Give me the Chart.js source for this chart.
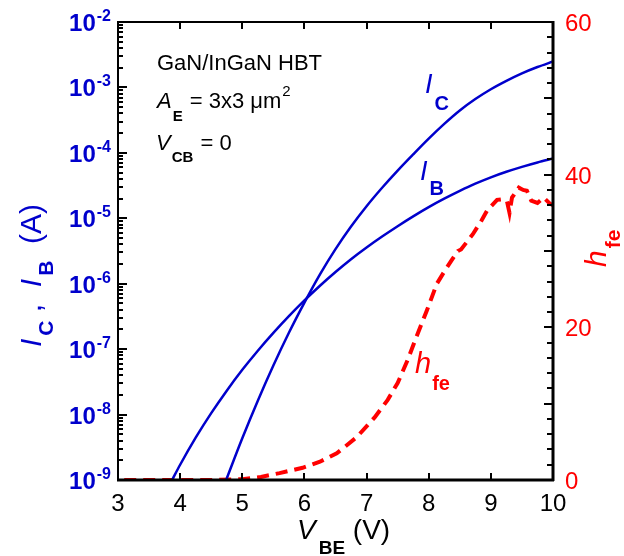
<!DOCTYPE html>
<html>
<head>
<meta charset="utf-8">
<script src="https://cdn.jsdelivr.net/npm/chart.js@4/dist/chart.umd.min.js"></script>
<style>
html,body{margin:0;padding:0;background:#fff;}
#wrap{width:624px;height:556px;}
</style>
</head>
<body>
<div id="wrap"><canvas id="c" width="624" height="556"></canvas></div>
<script>
// ---- data ----
const vbeIC = [4.74, 5.0, 5.25, 5.5, 5.75, 6.0, 6.25, 6.5, 6.75, 7.0, 7.25, 7.5, 7.75, 8.0, 8.25, 8.5, 8.75, 9.0, 9.25, 9.5, 9.75, 10.0];
const icA   = [1.0e-9, 4.34e-9, 1.63e-8, 5.62e-8, 1.78e-7, 5.15e-7, 1.39e-6, 3.38e-6, 7.49e-6, 1.53e-5, 2.93e-5, 5.36e-5, 9.48e-5, 1.65e-4, 2.77e-4, 4.44e-4, 6.64e-4, 9.38e-4, 1.26e-3, 1.64e-3, 2.05e-3, 2.49e-3];

const vbeIB = [3.87, 4.0, 4.25, 4.5, 4.75, 5.0, 5.25, 5.5, 5.75, 6.0, 6.25, 6.5, 6.75, 7.0, 7.25, 7.5, 7.75, 8.0, 8.25, 8.5, 8.75, 9.0, 9.25, 9.5, 9.75, 10.0];
const ibA   = [1.0e-9, 1.71e-9, 4.43e-9, 1.05e-8, 2.32e-8, 4.83e-8, 9.46e-8, 1.77e-7, 3.19e-7, 5.55e-7, 9.31e-7, 1.51e-6, 2.37e-6, 3.58e-6, 5.26e-6, 7.57e-6, 1.07e-5, 1.48e-5, 1.99e-5, 2.62e-5, 3.38e-5, 4.23e-5, 5.14e-5, 6.11e-5, 7.14e-5, 8.20e-5];

const vbeH = [3.1, 3.5, 4.0, 4.5, 5.0, 5.3, 5.6, 5.97, 6.25, 6.52, 6.84, 7.13, 7.34, 7.5, 7.66, 7.8, 7.97, 8.13, 8.25, 8.37, 8.47, 8.52, 8.71, 8.85, 8.94, 9.1, 9.2, 9.26, 9.3, 9.34, 9.45, 9.52, 9.58, 9.65, 9.75, 9.85, 9.95, 10.0];
const hfe  = [0, 0, 0, 0, 0.1, 0.4, 0.9, 1.6, 2.4, 3.5, 5.6, 8.2, 10.5, 12.7, 15.7, 18.7, 22.2, 25.7, 27.3, 28.8, 30.0, 30.2, 32.2, 34.0, 35.3, 36.7, 36.8, 36.5, 35.0, 37.0, 38.3, 38.0, 37.9, 36.6, 36.3, 37.0, 36.2, 36.0];

const xTickVals  = [3, 4, 5, 6, 7, 8, 9, 10];
const yDecades   = [-9, -8, -7, -6, -5, -4, -3, -2];
const y2TickVals = [0, 20, 40, 60];

const BLUE = '#0000CC';
const RED = '#FF0000';
const FF = '"Liberation Sans", Arial, Helvetica, sans-serif';

function pts(xs, ys){ return xs.map((x,i)=>({x:x, y:ys[i]})); }

function drawParts(ctx, x, y, parts){
  let cx = x;
  for (const p of parts){
    ctx.font = p.f;
    ctx.fillStyle = p.c || ctx.fillStyle;
    cx += (p.dx || 0);
    ctx.fillText(p.t, cx, y + (p.dy || 0));
    cx += ctx.measureText(p.t).width;
  }
  return cx;
}
function partsWidth(ctx, parts){
  let w = 0;
  for (const p of parts){ ctx.font = p.f; w += ctx.measureText(p.t).width + (p.dx||0); }
  return w;
}

const decor = {
  id: 'decor',
  afterDraw(chart){
    const ctx = chart.ctx;
    const a = chart.chartArea;
    const sx = chart.scales.x, sy = chart.scales.y, sy2 = chart.scales.y2;
    ctx.save();
    ctx.strokeStyle = '#000';
    ctx.textBaseline = 'alphabetic';
    ctx.textAlign = 'left';

    ctx.lineWidth = 2;
    ctx.beginPath();
    for (const v of xTickVals){
      const px = Math.round(sx.getPixelForValue(v));
      ctx.moveTo(px, a.bottom); ctx.lineTo(px, a.bottom - 7);
      ctx.moveTo(px, a.top); ctx.lineTo(px, a.top + 7);
    }
    for (let d = -9; d <= -2; d++){
      const py = Math.round(sy.getPixelForValue(Math.pow(10, d)));
      ctx.moveTo(a.left, py); ctx.lineTo(a.left + 9, py);
      if (d < -2){
        for (let m = 2; m <= 9; m++){
          const pm = Math.round(sy.getPixelForValue(m * Math.pow(10, d)));
          ctx.moveTo(a.left, pm); ctx.lineTo(a.left + 5, pm);
        }
      }
    }
    for (let v = 0; v <= 60; v += 2){
      const py = Math.round(sy2.getPixelForValue(v));
      const len = (v % 10 === 0) ? 9 : 6;
      ctx.moveTo(a.right, py); ctx.lineTo(a.right - len, py);
    }
    ctx.stroke();

    ctx.lineWidth = 2;
    ctx.strokeRect(a.left, a.top, a.right - a.left, a.bottom - a.top);
    ctx.lineWidth = 3;
    ctx.beginPath();
    ctx.moveTo(a.left - 1, a.bottom); ctx.lineTo(a.right + 1, a.bottom);
    ctx.moveTo(a.right, a.top - 1); ctx.lineTo(a.right, a.bottom + 1);
    ctx.stroke();

    // bottom tick labels
    ctx.fillStyle = '#000';
    ctx.font = '24px ' + FF;
    ctx.textAlign = 'center';
    for (const v of xTickVals){
      ctx.fillText(String(v), sx.getPixelForValue(v), 511);
    }
    ctx.textAlign = 'left';

    // left tick labels (10^n)
    for (const d of yDecades){
      const py = sy.getPixelForValue(Math.pow(10, d));
      const parts = [
        {t:'10', f:'bold 24px ' + FF, c:BLUE},
        {t:String(d), f:'bold 16px ' + FF, c:BLUE, dy:-10, dx:1}
      ];
      const w = partsWidth(ctx, parts);
      drawParts(ctx, 111 - w, py + 9, parts);
    }

    // right tick labels
    ctx.fillStyle = RED;
    ctx.font = '24px ' + FF;
    for (const v of y2TickVals){
      ctx.fillText(String(v), 565, sy2.getPixelForValue(v) + 9);
    }

    // x title
    drawParts(ctx, 297, 539, [
      {t:'V', f:'italic 28px ' + FF, c:'#000'},
      {t:'BE', f:'bold 19px ' + FF, c:'#000', dy:15, dx:3},
      {t:' (V)', f:'28px ' + FF, c:'#000', dx:0}
    ]);

    // left title (rotated)
    ctx.save();
    ctx.translate(41, 347);
    ctx.rotate(-Math.PI / 2);
    drawParts(ctx, 0, 0, [
      {t:'I', f:'italic 30px ' + FF, c:BLUE},
      {t:'C', f:'bold 21px ' + FF, c:BLUE, dy:12, dx:3},
      {t:' ,  ', f:'30px ' + FF, c:BLUE},
      {t:'I', f:'italic 30px ' + FF, c:BLUE},
      {t:'B', f:'bold 21px ' + FF, c:BLUE, dy:12, dx:3},
      {t:'  (A)', f:'30px ' + FF, c:BLUE}
    ]);
    ctx.restore();

    // right title (rotated)
    ctx.save();
    ctx.translate(606, 267);
    ctx.rotate(-Math.PI / 2);
    drawParts(ctx, 0, 0, [
      {t:'h', f:'italic 30px ' + FF, c:RED},
      {t:'fe', f:'bold 21px ' + FF, c:RED, dy:14, dx:2}
    ]);
    ctx.restore();

    // annotation block
    ctx.fillStyle = '#000';
    ctx.font = '22px ' + FF;
    ctx.fillText('GaN/InGaN HBT', 157, 70);
    drawParts(ctx, 157, 108, [
      {t:'A', f:'italic 22px ' + FF, c:'#000'},
      {t:'E', f:'bold 15px ' + FF, c:'#000', dy:13, dx:1},
      {t:' = 3x3 \u03BCm', f:'22px ' + FF, c:'#000', dx:1},
      {t:'2', f:'15px ' + FF, c:'#000', dy:-12, dx:1}
    ]);
    drawParts(ctx, 156, 150, [
      {t:'V', f:'italic 22px ' + FF, c:'#000'},
      {t:'CB', f:'bold 15px ' + FF, c:'#000', dy:12, dx:1},
      {t:' = 0', f:'22px ' + FF, c:'#000', dx:1}
    ]);

    // curve labels
    drawParts(ctx, 425, 93, [
      {t:'I', f:'italic 27px ' + FF, c:BLUE},
      {t:'C', f:'bold 20px ' + FF, c:BLUE, dy:17, dx:2}
    ]);
    drawParts(ctx, 420, 180, [
      {t:'I', f:'italic 27px ' + FF, c:BLUE},
      {t:'B', f:'bold 20px ' + FF, c:BLUE, dy:15, dx:2}
    ]);
    drawParts(ctx, 415, 373, [
      {t:'h', f:'italic 29px ' + FF, c:RED},
      {t:'fe', f:'bold 20px ' + FF, c:RED, dy:17, dx:1}
    ]);

    ctx.restore();
  }
};

new Chart(document.getElementById('c'), {
  type: 'scatter',
  data: {
    datasets: [
      { label:'IC', data: pts(vbeIC, icA), yAxisID:'y', showLine:true, pointRadius:0,
        borderColor:BLUE, borderWidth:2.5, cubicInterpolationMode:'monotone' },
      { label:'IB', data: pts(vbeIB, ibA), yAxisID:'y', showLine:true, pointRadius:0,
        borderColor:BLUE, borderWidth:2.5, cubicInterpolationMode:'monotone' },
      { label:'hfe', data: pts(vbeH, hfe), yAxisID:'y2', showLine:true, pointRadius:0,
        borderColor:RED, borderWidth:4, borderDash:[12,7], tension:0 }
    ]
  },
  options: {
    responsive:false, animation:false, devicePixelRatio:1,
    layout:{ padding:{ top:22, left:0, right:0, bottom:0 } },
    plugins:{ legend:{display:false}, tooltip:{enabled:false} },
    scales:{
      x:{ type:'linear', min:3, max:10, ticks:{display:false}, grid:{display:false}, border:{display:false},
          afterFit(s){ s.height = 76; } },
      y:{ type:'logarithmic', position:'left', min:1e-9, max:1e-2, ticks:{display:false}, grid:{display:false}, border:{display:false},
          afterFit(s){ s.width = 118; } },
      y2:{ type:'linear', position:'right', min:0, max:60, ticks:{display:false}, grid:{display:false}, border:{display:false},
          afterFit(s){ s.width = 71; } }
    }
  },
  plugins:[decor]
});
</script>
</body>
</html>
